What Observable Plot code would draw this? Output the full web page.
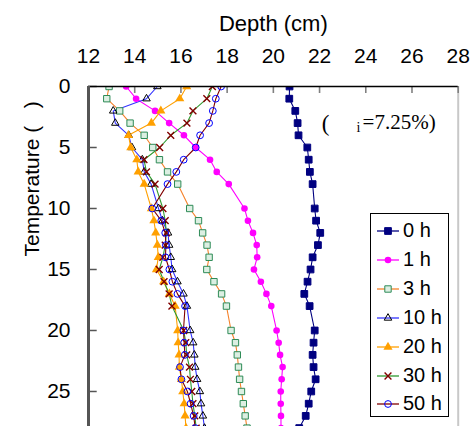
<!DOCTYPE html>
<html><head><meta charset="utf-8">
<script src="https://cdn.jsdelivr.net/npm/d3@7"></script>
<script src="https://cdn.jsdelivr.net/npm/@observablehq/plot@0.6"></script>
<style>
body{margin:0;background:#fff;}
#wrap{position:relative;width:476px;height:426px;overflow:hidden;font-family:"Liberation Sans",Arial,sans-serif;}
#legend{position:absolute;left:370px;top:213px;width:77px;height:202px;border:1px solid #000;background:#fff;}
.lg{position:absolute;left:0;height:20px;width:77px;}
.lg svg{position:absolute;left:6px;top:3px;}
.lg span{position:absolute;left:32px;top:-3px;font-size:20px;line-height:24px;color:#000;}
</style></head><body><div id="wrap"><div id="chart"></div><div id="legend"></div></div>
<script>
// ---- data ----
const depthRows = [0,1,2,3,4,5,6,7,8,10,11,12,13,14,15,16,17,18,20,21,22,23,24,25,26,27,28];
const seriesNames = ["0 h","1 h","3 h","10 h","20 h","30 h","50 h"];
const h0  = [20.70,20.69,20.95,21.05,21.09,21.47,21.53,21.58,21.70,21.79,21.85,22.03,21.93,21.70,21.61,21.48,21.34,21.57,21.79,21.74,21.70,21.74,21.83,21.64,21.53,21.40,21.12];
const h1  = [13.63,14.06,14.88,15.49,16.13,16.64,17.26,17.55,18.07,18.75,18.90,19.12,19.28,19.30,19.16,19.46,19.70,19.91,20.14,20.23,20.29,20.40,20.36,20.32,20.32,20.33,20.33];
const h3  = [12.89,12.79,13.35,13.80,14.41,14.78,15.07,15.42,15.86,16.38,16.76,16.94,17.13,17.22,17.12,17.43,17.76,17.97,18.17,18.36,18.44,18.49,18.54,18.62,18.70,18.78,18.86];
const h10 = [14.98,14.51,13.07,13.16,13.74,13.88,14.33,14.41,14.71,15.03,15.20,15.44,15.49,15.56,15.62,15.85,16.11,16.26,16.40,16.53,16.58,16.62,16.70,16.82,16.87,16.95,17.02];
const h20 = [16.25,15.95,15.13,14.72,13.73,13.83,14.09,14.15,14.41,14.72,14.83,14.91,14.98,15.02,14.94,15.25,15.50,15.75,15.86,15.88,15.92,15.93,16.02,16.08,16.14,16.18,16.22];
const h30 = [17.36,17.12,16.52,16.26,15.56,15.08,14.40,14.51,14.88,15.22,15.32,15.37,15.32,15.22,15.06,15.27,15.49,15.61,16.12,16.21,16.25,16.37,16.41,16.47,16.52,16.60,16.66];
const h50 = [17.74,17.51,17.38,17.22,16.83,16.64,16.12,15.80,15.42,14.76,15.15,15.32,15.35,15.33,15.50,15.63,15.85,16.18,16.11,16.14,16.17,15.96,16.02,16.28,16.42,16.55,16.62];
const xTicks = [12,14,16,18,20,22,24,26,28];
const yTicks = [0,5,10,15,20,25];
const xLabel = "Depth (cm)";
const yLabel = "Temperature (\u00a0\u00a0\u00a0)";
const annoOpen = "(";
const annoSub = "i";
const annoRest = "=7.25%)";

// ---- styles ----
const styles = [
  {line:"#000080", symbol:"square",   r:3.8, fill:"#000080", stroke:"#000080"},
  {line:"#ff00ff", symbol:"circle",   r:3.3, fill:"#ff00ff", stroke:"none"},
  {line:"#f5822a", symbol:"square",   r:3.6, fill:"#dcefe2", stroke:"#2e8b57"},
  {line:"#3333ff", symbol:"triangle", r:2.8, fill:"none",    stroke:"#000"},
  {line:"#ffa000", symbol:"triangle", r:3.4, fill:"#ffa000", stroke:"none"},
  {line:"#2f9a2f", symbol:"times",    r:3.2, fill:"none",    stroke:"#800000"},
  {line:"#800000", symbol:"circle",   r:3.4, fill:"none",    stroke:"#0000ff"}
];
const allVals = [h0,h1,h3,h10,h20,h30,h50];
const series = seriesNames.map((name,i)=>depthRows.map((d,j)=>({name, depth:d, temp:allVals[i][j]})));

const marks = [];
series.forEach((data,i)=>{
  const s = styles[i];
  marks.push(Plot.line(data,{x:"temp",y:"depth",stroke:s.line,strokeWidth:1.1,clip:true}));
});
series.forEach((data,i)=>{
  const s = styles[i];
  marks.push(Plot.dot(data,{x:"temp",y:"depth",symbol:s.symbol,r:s.r,fill:s.fill,stroke:s.stroke,strokeWidth:s.symbol==="times"?1.4:1,clip:true}));
});

const chart = Plot.plot({
  width:476, height:426,
  marginLeft:88, marginRight:18.3, marginTop:86, marginBottom:0,
  style:{fontFamily:"'Liberation Sans', Arial, sans-serif", fontSize:"21px", background:"#fff", color:"#000"},
  x:{domain:[12,28], axis:null},
  y:{domain:[0,27.87], reverse:true, axis:null},
  marks:[
    Plot.ruleX([28],{stroke:"#c8c8c8",strokeWidth:2}),
    Plot.tickX(xTicks,{x:d=>d,insetBottom:333,stroke:"#808080",strokeWidth:1.6}),
    Plot.tickY(yTicks,{y:d=>d,insetRight:361,stroke:"#555",strokeWidth:1.5}),
    Plot.axisX({anchor:"top",ticks:xTicks,tickSize:0,tickPadding:24,fontSize:21,label:null,tickFormat:d=>String(d)}),
    Plot.axisY({anchor:"left",ticks:yTicks,tickSize:0,tickPadding:18,fontSize:21,label:null,tickFormat:d=>String(d)}),
    ...marks,
    Plot.ruleY([0],{stroke:"#000",strokeWidth:1.4}),
    Plot.ruleX([12],{stroke:"#555",strokeWidth:3}),
    Plot.text([xLabel],{frameAnchor:"top",lineAnchor:"middle",dy:-63,fontSize:22,text:d=>d}),
    Plot.text([yLabel],{frameAnchor:"left",dx:-56,rotate:-90,fontSize:21,text:d=>d}),
    Plot.text([annoOpen],{x:()=>22.09,y:()=>3.05,text:d=>d,textAnchor:"start",fontSize:23,fontFamily:"'Liberation Serif', 'Times New Roman', serif"}),
    Plot.text([annoSub],{x:()=>23.6,y:()=>3.4,text:d=>d,textAnchor:"start",fontSize:14,fontFamily:"'Liberation Serif', 'Times New Roman', serif"}),
    Plot.text([annoRest],{x:()=>23.86,y:()=>2.95,text:d=>d,textAnchor:"start",fontSize:21,fontFamily:"'Liberation Serif', 'Times New Roman', serif"})
  ]
});
document.getElementById("chart").appendChild(chart);

// ---- legend ----
const symMap = {square:d3.symbolSquare,circle:d3.symbolCircle,triangle:d3.symbolTriangle,times:d3.symbolTimes};
const lg = d3.select("#legend");
seriesNames.forEach((name,i)=>{
  const s = styles[i];
  const row = lg.append("div").attr("class","lg").style("top",(7+i*28.9)+"px");
  const svg = row.append("svg").attr("width",22).attr("height",14);
  svg.append("line").attr("x1",0).attr("x2",22).attr("y1",7).attr("y2",7).attr("stroke",s.line).attr("stroke-width",1.3);
  svg.append("path").attr("transform","translate(11,7)")
    .attr("d",d3.symbol(symMap[s.symbol],s.r*s.r*Math.PI)())
    .attr("fill",s.fill).attr("stroke",s.stroke).attr("stroke-width",s.symbol==="times"?1.4:1);
  row.append("span").text(name);
});
</script>
</body></html>
